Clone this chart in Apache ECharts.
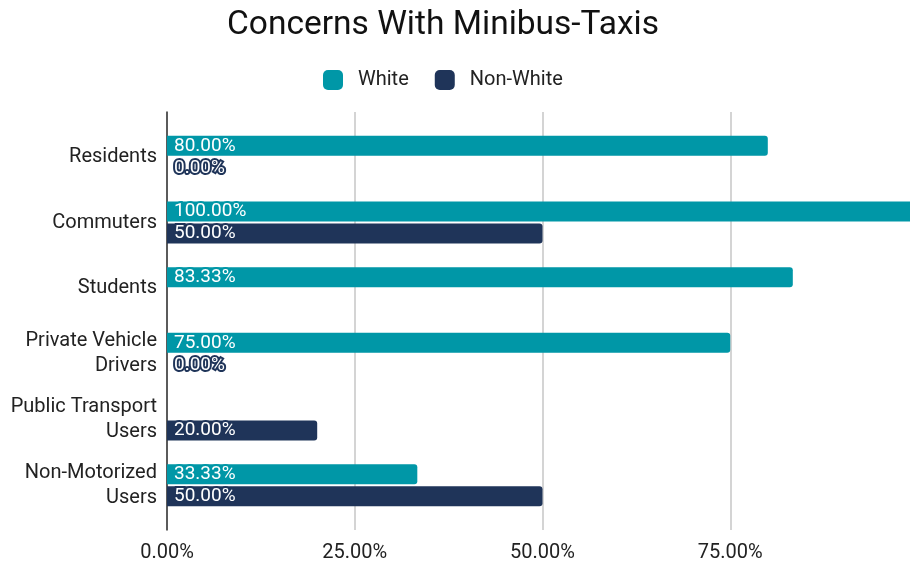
<!DOCTYPE html>
<html>
<head>
<meta charset="utf-8">
<script src="https://cdn.jsdelivr.net/npm/echarts@6/dist/echarts.min.js"></script>
<style>
  html, body { margin: 0; padding: 0; background: #fff; }
  #chart { width: 910px; height: 563px; }
</style>
</head>
<body>
<div id="chart"></div>
<script>
// Share of respondents in each group with concerns about minibus-taxis (%)
const categories = [
  'Residents',
  'Commuters',
  'Students',
  'Private Vehicle\nDrivers',
  'Public Transport\nUsers',
  'Non-Motorized\nUsers'
];
const whiteValues    = [80, 100, 83.33, 75, null, 33.33];
const nonWhiteValues = [0, 50, null, 0, 20, 50];
const seriesNames = ['White', 'Non-White'];
const tickValues = [0, 25, 50, 75];

const TEAL = '#0097a7';
const NAVY = '#1f3459';
const FONT = 'Roboto';

const fmtPct = v => v.toFixed(2) + '%';

const chart = echarts.init(document.getElementById('chart'), null, { renderer: 'canvas' });

function barSeries(name, data, color) {
  return {
    name: name,
    type: 'bar',
    xAxisIndex: 1,
    yAxisIndex: 1,
    data: data,
    barWidth: 20,
    barGap: '10%',
    itemStyle: { color: color, borderRadius: [0, 3, 3, 0] },
    label: {
      show: true,
      position: 'insideLeft',
      distance: 7,
      color: '#ffffff',
      fontFamily: FONT,
      fontSize: 19,
      textBorderColor: color,
      textBorderWidth: 4,
      formatter: p => fmtPct(p.value)
    },
    emphasis: { disabled: true }
  };
}

// the plot runs a little past the right edge, so 100% sits just off-canvas
const PLOT_LEFT = 167;
const PLOT_WIDTH = 751;

chart.setOption({
  animation: false,
  backgroundColor: '#ffffff',
  title: {
    text: 'Concerns With Minibus-Taxis',
    left: 443,
    textAlign: 'center',
    top: 9,
    padding: 0,
    textStyle: { fontFamily: FONT, fontSize: 33.5, fontWeight: 'normal', color: '#111111' }
  },
  legend: {
    data: seriesNames,
    left: 323,
    top: 70,
    padding: 0,
    icon: 'roundRect',
    itemWidth: 20,
    itemHeight: 20,
    itemGap: 26,
    textStyle: { fontFamily: FONT, fontSize: 20, color: '#222222', padding: [0, 0, 0, 10] }
  },
  grid: [
    // frame grid: split lines, value labels and the vertical axis line
    { left: PLOT_LEFT, width: PLOT_WIDTH, top: 112, bottom: 33, outerBoundsMode: 'none', containLabel: false },
    // bar grid
    { left: PLOT_LEFT, width: PLOT_WIDTH, top: 124, bottom: 45, outerBoundsMode: 'none', containLabel: false }
  ],
  xAxis: [
    {
      gridIndex: 0,
      type: 'value',
      min: 0,
      max: 100,
      interval: 25,
      axisLine: { show: false },
      axisTick: { show: false },
      splitLine: { show: true, lineStyle: { color: '#d4d4d4', width: 2 } },
      axisLabel: {
        margin: 13,
        fontFamily: FONT,
        fontSize: 20,
        color: '#222222',
        showMaxLabel: false,
        formatter: v => tickValues.indexOf(v) >= 0 ? fmtPct(v) : ''
      }
    },
    {
      gridIndex: 1,
      type: 'value',
      min: 0,
      max: 100,
      show: false
    }
  ],
  yAxis: [
    {
      gridIndex: 0,
      type: 'category',
      inverse: true,
      data: categories,
      axisLine: { show: true, lineStyle: { color: '#333333', width: 1.5 } },
      axisTick: { show: false },
      axisLabel: { show: false },
      splitLine: { show: false }
    },
    {
      gridIndex: 1,
      type: 'category',
      inverse: true,
      data: categories,
      axisLine: { show: false },
      axisTick: { show: false },
      axisLabel: {
        margin: 10,
        fontFamily: FONT,
        fontSize: 20,
        lineHeight: 25,
        color: '#222222',
        align: 'right',
        padding: [3, 0, 0, 0]
      }
    }
  ],
  series: [
    barSeries(seriesNames[0], whiteValues, TEAL),
    barSeries(seriesNames[1], nonWhiteValues, NAVY)
  ]
});
</script>
</body>
</html>
